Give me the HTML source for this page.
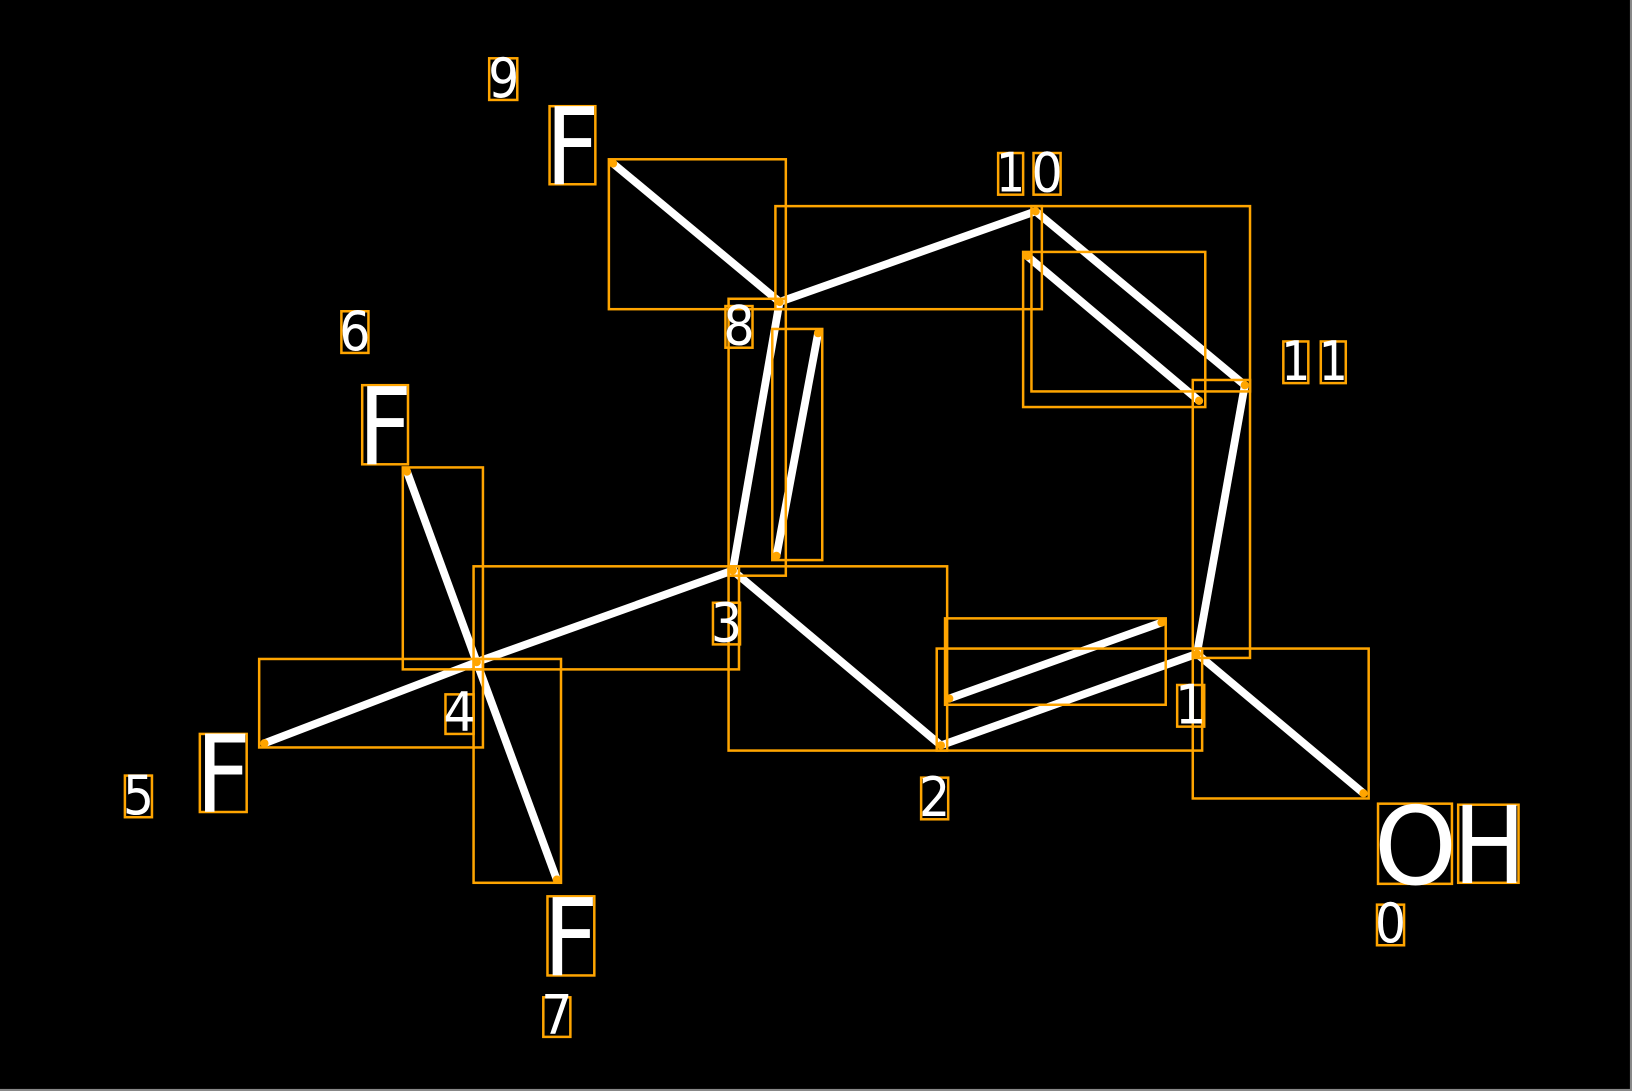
<!DOCTYPE html>
<html><head><meta charset="utf-8"><style>
html,body{margin:0;padding:0;background:#000;}
svg{display:block;}
text{font-family:"DejaVu Sans","Liberation Sans",sans-serif;fill:#fff;}
</style></head><body>
<svg width="1632" height="1091" viewBox="0 0 1568 1048" preserveAspectRatio="none" xmlns="http://www.w3.org/2000/svg">
<rect x="0" y="0" width="1568" height="1048" fill="#000"/>
<rect x="1566" y="0" width="2" height="1048" fill="#888"/>
<rect x="0" y="1046" width="1568" height="2" fill="#888"/>
<g stroke="#fff" stroke-width="7.5" stroke-linecap="butt">
<line x1="589" y1="157" x2="749" y2="290"/>
<line x1="749" y1="290" x2="995" y2="203"/>
<line x1="995" y1="203" x2="1196" y2="370"/>
<line x1="987" y1="246" x2="1152" y2="385"/>
<line x1="1196" y1="370" x2="1150" y2="628"/>
<line x1="1150" y1="628" x2="1310" y2="762"/>
<line x1="1150" y1="628" x2="904" y2="716"/>
<line x1="912" y1="671" x2="1116" y2="598"/>
<line x1="904" y1="716" x2="704" y2="548"/>
<line x1="704" y1="548" x2="749" y2="290"/>
<line x1="746" y1="534" x2="786" y2="320"/>
<line x1="704" y1="548" x2="458" y2="636"/>
<line x1="458" y1="636" x2="254" y2="714"/>
<line x1="458" y1="636" x2="391" y2="453"/>
<line x1="458" y1="636" x2="535" y2="845"/>
</g>
<g fill="none" stroke="#FFA500" stroke-width="2.4">
<rect x="585" y="153" width="170" height="144"/>
<rect x="745" y="198" width="256" height="99"/>
<rect x="991" y="198" width="210" height="178"/>
<rect x="983" y="242" width="175" height="149"/>
<rect x="1146" y="365" width="55" height="267"/>
<rect x="1146" y="623" width="169" height="144"/>
<rect x="900" y="623" width="255" height="98"/>
<rect x="908" y="594" width="212" height="83"/>
<rect x="700" y="544" width="210" height="177"/>
<rect x="700" y="287" width="55" height="266"/>
<rect x="742" y="316" width="48" height="222"/>
<rect x="455" y="544" width="255" height="99"/>
<rect x="249" y="633" width="215" height="85"/>
<rect x="387" y="449" width="77" height="194"/>
<rect x="455" y="633" width="84" height="215"/>
<rect x="470" y="56" width="27" height="40"/>
<rect x="959" y="147" width="24" height="40"/>
<rect x="993" y="147" width="26" height="40"/>
<rect x="1233" y="328" width="24" height="40"/>
<rect x="1269" y="328" width="24" height="40"/>
<rect x="328" y="299" width="26" height="40"/>
<rect x="697" y="294" width="26" height="40"/>
<rect x="685" y="579" width="26" height="40"/>
<rect x="428" y="667" width="27" height="38"/>
<rect x="120" y="745" width="26" height="40"/>
<rect x="885" y="747" width="26" height="40"/>
<rect x="1131" y="658" width="26" height="40"/>
<rect x="1323" y="869" width="26" height="39"/>
<rect x="522" y="958" width="26" height="38"/>
<rect x="528" y="102" width="44" height="75"/>
<rect x="348" y="370" width="44" height="76"/>
<rect x="192" y="705" width="45" height="75"/>
<rect x="526" y="861" width="45" height="76"/>
<rect x="1324" y="772" width="71" height="77"/>
<rect x="1401" y="773" width="58" height="75"/>
</g>
<g fill="#FFA500">
<circle cx="589" cy="157" r="4"/><circle cx="749" cy="290" r="4"/><circle cx="995" cy="203" r="4"/>
<circle cx="1196" cy="370" r="4"/><circle cx="987" cy="246" r="4"/><circle cx="1152" cy="385" r="4"/>
<circle cx="1150" cy="628" r="4"/><circle cx="1310" cy="762" r="4"/><circle cx="904" cy="716" r="4"/>
<circle cx="912" cy="671" r="4"/><circle cx="1116" cy="598" r="4"/><circle cx="704" cy="548" r="4"/>
<circle cx="746" cy="534" r="4"/><circle cx="786" cy="320" r="4"/><circle cx="458" cy="636" r="4"/>
<circle cx="254" cy="714" r="4"/><circle cx="391" cy="453" r="4"/><circle cx="535" cy="845" r="4"/>
</g>
<g font-size="103">
<text x="524" y="177" textLength="52" lengthAdjust="spacingAndGlyphs">F</text>
<text x="344" y="446" textLength="52" lengthAdjust="spacingAndGlyphs">F</text>
<text x="188" y="780" textLength="53" lengthAdjust="spacingAndGlyphs">F</text>
<text x="522" y="937" textLength="53" lengthAdjust="spacingAndGlyphs">F</text>
<text x="1320" y="849" font-size="104" textLength="80" lengthAdjust="spacingAndGlyphs">O</text>
<text x="1396" y="848" textLength="70" lengthAdjust="spacingAndGlyphs">H</text>
</g>
<g font-size="52">
<text x="469" y="93" textLength="30" lengthAdjust="spacingAndGlyphs">9</text>
<text x="957" y="184" textLength="28" lengthAdjust="spacingAndGlyphs">1</text>
<text x="991" y="184" textLength="30" lengthAdjust="spacingAndGlyphs">0</text>
<text x="1231" y="365" textLength="28" lengthAdjust="spacingAndGlyphs">1</text>
<text x="1267" y="365" textLength="28" lengthAdjust="spacingAndGlyphs">1</text>
<text x="326" y="336" textLength="30" lengthAdjust="spacingAndGlyphs">6</text>
<text x="695" y="331" textLength="30" lengthAdjust="spacingAndGlyphs">8</text>
<text x="683" y="616" textLength="30" lengthAdjust="spacingAndGlyphs">3</text>
<text x="426" y="702" textLength="31" lengthAdjust="spacingAndGlyphs">4</text>
<text x="118" y="782" textLength="30" lengthAdjust="spacingAndGlyphs">5</text>
<text x="883" y="784" textLength="30" lengthAdjust="spacingAndGlyphs">2</text>
<text x="1129" y="695" textLength="30" lengthAdjust="spacingAndGlyphs">1</text>
<text x="1321" y="905" textLength="30" lengthAdjust="spacingAndGlyphs">0</text>
<text x="520" y="993" textLength="30" lengthAdjust="spacingAndGlyphs">7</text>
</g>
</svg>
</body></html>
